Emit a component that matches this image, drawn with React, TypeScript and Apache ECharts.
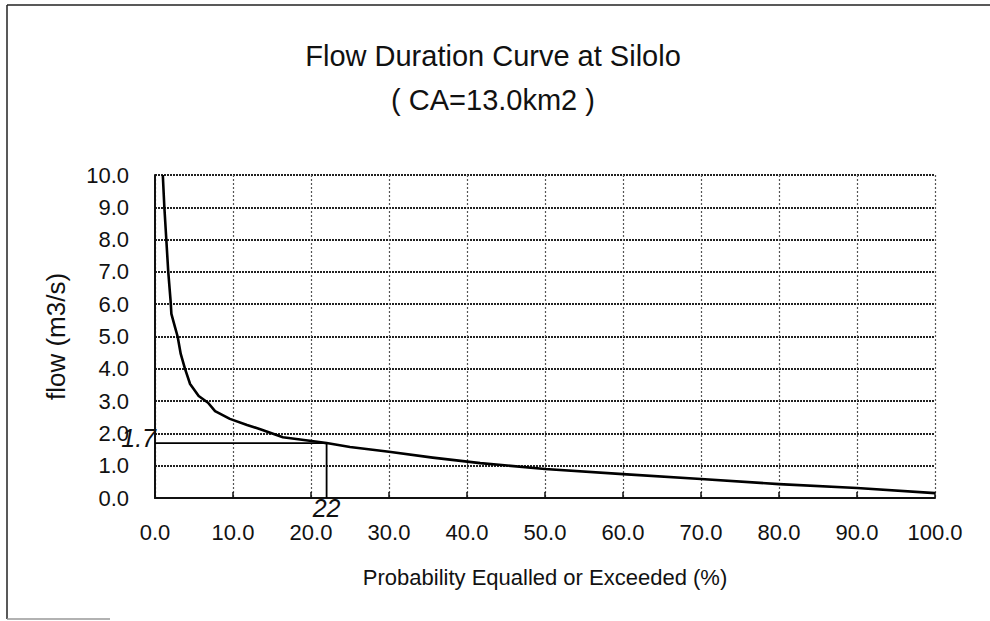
import React, { useEffect, useRef } from "react";
import * as echarts from "echarts";

const titleText = "Flow Duration Curve at Silolo";
const subTitleText = "( CA=13.0km2 )";
const xAxisName = "Probability Equalled or Exceeded (%)";
const yAxisName = "flow (m3/s)";

// probability (%) and flow (m3/s)
const probPct = [1.0, 1.2, 1.7, 2.0, 2.1, 2.6, 2.9, 3.3, 3.85, 4.5, 5.6, 6.8, 7.7, 9.6, 11.8, 13.5, 16.4, 20.8, 22, 25, 30, 35.6, 41.7, 50, 60, 70, 80, 90, 100];
const flowVal = [10.0, 9.0, 7.0, 6.1, 5.7, 5.26, 5.0, 4.46, 4.0, 3.53, 3.16, 2.95, 2.69, 2.45, 2.26, 2.13, 1.88, 1.74, 1.7, 1.58, 1.43, 1.25, 1.08, 0.9, 0.74, 0.59, 0.43, 0.31, 0.15];

// reading annotation
const readPct = 22;
const readFlow = 1.7;

const FONT = "'Liberation Sans', Arial, sans-serif";

export default function App() {
  const ref = useRef<HTMLDivElement>(null);
  useEffect(() => {
    if (!ref.current) return;
    const chart = echarts.init(ref.current, null, { renderer: "svg" });
    const curve = probPct.map((p, i) => [p, flowVal[i]]);
    chart.setOption({
      animation: false,
      backgroundColor: "#ffffff",
      title: [
        {
          text: titleText,
          left: 488,
          top: 36,
          textAlign: "center",
          textStyle: { fontFamily: FONT, fontSize: 29, fontWeight: "normal", color: "#111" },
        },
        {
          text: subTitleText,
          left: 488,
          top: 80,
          textAlign: "center",
          textStyle: { fontFamily: FONT, fontSize: 29, fontWeight: "normal", color: "#111" },
        },
      ],
      grid: { left: 155, right: 55, top: 175, bottom: 123 },
      xAxis: {
        type: "value",
        min: 0,
        max: 100,
        interval: 10,
        name: xAxisName,
        nameLocation: "middle",
        nameGap: 68,
        nameTextStyle: { fontFamily: FONT, fontSize: 22, color: "#111" },
        axisLine: { show: true, lineStyle: { color: "#111", width: 2 } },
        axisTick: { show: true, inside: true, length: 6, lineStyle: { color: "#111", width: 1.5 } },
        axisLabel: {
          fontFamily: FONT,
          fontSize: 22,
          color: "#111",
          margin: 23,
          formatter: (v: number) => v.toFixed(1),
        },
        splitLine: { show: true, lineStyle: { color: "#555", width: 1.2, type: [2, 2] } },
      },
      yAxis: {
        type: "value",
        min: 0,
        max: 10,
        interval: 1,
        name: yAxisName,
        nameLocation: "middle",
        nameGap: 86,
        nameTextStyle: { fontFamily: FONT, fontSize: 26, color: "#111" },
        axisLine: { show: true, lineStyle: { color: "#111", width: 2 } },
        axisTick: { show: false },
        axisLabel: {
          fontFamily: FONT,
          fontSize: 22,
          color: "#111",
          margin: 26,
          formatter: (v: number) => v.toFixed(1),
        },
        splitLine: { show: true, lineStyle: { color: "#222", width: 1.8, type: [2, 1] } },
      },
      series: [
        {
          type: "line",
          data: curve,
          showSymbol: false,
          symbol: "none",
          lineStyle: { color: "#000", width: 2.6, join: "round" },
          z: 5,
        },
        {
          type: "line",
          data: [
            { value: [0, readFlow], label: { show: true, position: "left", distance: 1, offset: [2, -5], formatter: String(readFlow) } },
            { value: [readPct, readFlow] },
            { value: [readPct, 0], label: { show: true, position: "bottom", distance: 0, offset: [0, -3], formatter: String(readPct) } },
          ],
          symbol: "circle",
          symbolSize: 0.01,
          showSymbol: true,
          itemStyle: { color: "#000" },
          lineStyle: { color: "#000", width: 1.8 },
          label: {
            fontFamily: FONT,
            fontSize: 25,
            fontStyle: "italic",
            color: "#111",
          },
          z: 6,
        },
      ],
      graphic: [
        { type: "line", shape: { x1: 7, y1: 5, x2: 7, y2: 619 }, style: { stroke: "#222", lineWidth: 1.5 } },
        { type: "line", shape: { x1: 7, y1: 5, x2: 990, y2: 5 }, style: { stroke: "#222", lineWidth: 1.5 } },
        { type: "line", shape: { x1: 7, y1: 619, x2: 110, y2: 619 }, style: { stroke: "#999", lineWidth: 1.5 } },
      ],
    });
    return () => chart.dispose();
  }, []);
  return (
    <div
      ref={ref}
      style={{ position: "absolute", left: 0, top: 0, width: 990, height: 621 }}
    />
  );
}
